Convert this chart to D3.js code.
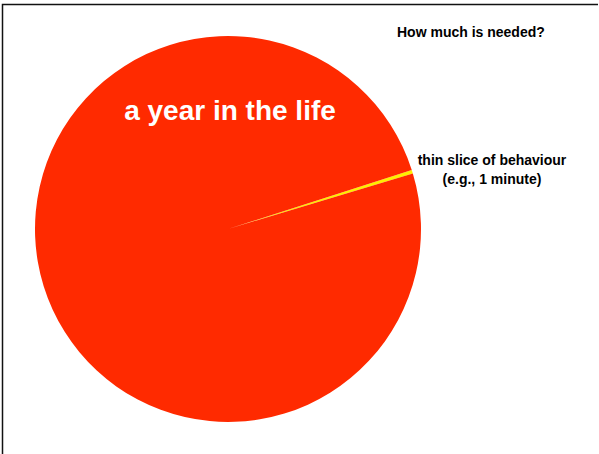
<!DOCTYPE html>
<html lang="en">
<head>
  <meta charset="UTF-8">
  <title>How much is needed?</title>
  <style>
    body {
      margin: 0;
      background: #fff;
      font-family: "Liberation Sans", Helvetica, Arial, sans-serif;
    }
    .frame {
      fill: none;
      stroke: #111;
      stroke-width: 1.5px;
    }
    .title, .note {
      font-weight: bold;
      font-size: 14px;
      fill: #000;
    }
    .big-label {
      font-weight: bold;
      font-size: 28px;
      fill: #fff;
    }
  </style>
</head>
<body>
  <script src="https://d3js.org/d3.v7.min.js"></script>
  <script type="text/javascript">
// slices: the year, and the sliver we actually observe
const categories = ['thin slice of behaviour', 'a year in the life']
const values = [0.3, 99.7]
const colors = ['#ffee00', '#ff2a00']
const noteLines = ['thin slice of behaviour', '(e.g., 1 minute)']
const title = 'How much is needed?'

const width = 599
const height = 454
const cx = 228
const cy = 229
const radius = 193

const svg = d3.select('body').append('svg')
  .attr('width', width)
  .attr('height', height)

// frame lines on top and left
svg.append('path')
  .attr('class', 'frame')
  .attr('d', 'M2.5,454V4.5H598')

// sliver sits at about 73 degrees clockwise from 12 o'clock
const start = 72.2 * Math.PI / 180
const pie = d3.pie()
  .sort(null)
  .value(d => d)
  .startAngle(start)
  .endAngle(start + 2 * Math.PI)

const arc = d3.arc()
  .innerRadius(0)
  .outerRadius(radius)

const g = svg.append('g')
  .attr('transform', `translate(${cx},${cy})`)

g.selectAll('path.slice')
  .data(pie(values))
  .enter().append('path')
  .attr('class', 'slice')
  .attr('fill', (d, i) => colors[i])
  .attr('d', arc)

g.append('text')
  .attr('class', 'big-label')
  .attr('x', 2)
  .attr('y', -109)
  .attr('text-anchor', 'middle')
  .text(categories[1])

svg.append('text')
  .attr('class', 'title')
  .attr('x', 397)
  .attr('y', 36.5)
  .text(title)

svg.append('text')
  .attr('class', 'note')
  .attr('text-anchor', 'middle')
  .selectAll('tspan')
  .data(noteLines)
  .enter().append('tspan')
  .attr('x', 492)
  .attr('y', (d, i) => 165 + i * 19)
  .text(d => d)
  </script>
</body>
</html>
